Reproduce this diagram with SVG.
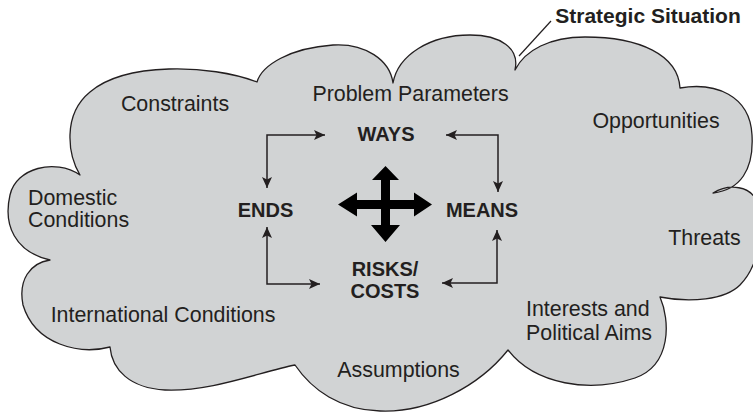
<svg xmlns="http://www.w3.org/2000/svg" width="753" height="412" viewBox="0 0 753 412">
<defs>
<style>
.lbl{font-family:"Liberation Sans",Arial,sans-serif;font-size:21.4px;fill:#231f20}
.key{font-family:"Liberation Sans",Arial,sans-serif;font-size:20px;font-weight:bold;fill:#231f20}
.ttl{font-family:"Liberation Sans",Arial,sans-serif;font-size:21px;font-weight:bold;fill:#231f20}
.conn{fill:none;stroke:#231f20;stroke-width:1.5;stroke-linejoin:miter}
</style>
<marker id="ah" viewBox="0 0 11 10" refX="11" refY="5" markerWidth="11" markerHeight="10" markerUnits="userSpaceOnUse" orient="auto-start-reverse">
<path d="M0,0 L11,5 L0,10 L2.5,5 Z" fill="#231f20"/>
</marker>
</defs>
<rect width="753" height="412" fill="#ffffff"/>
<g id="cloud">
<path d="M80,175 C68,155 62,115 90,92 C125,62 210,64 257,82 C262,65 290,48 333,45 C365,43 390,60 393,83 C398,55 430,35 470,35 C500,35 520,48 515,70 C525,50 550,37 585,37 C640,37 678,55 680,88 C715,82 750,95 752,135 C754,170 740,190 713,193 C728,184 752,184 758,205 C765,240 755,270 740,285 C725,300 690,303 660,297 C670,320 672,365 635,378 C590,393 535,385 508,350 C480,385 430,413 380,411 C340,410 312,390 295,365 C260,372 210,392 165,390 C130,388 112,370 110,347 C80,355 35,345 23,305 C18,280 30,263 50,260 C15,252 3,225 10,195 C16,168 55,158 80,175 Z" fill="#d1d3d4" stroke="#231f20" stroke-width="1.3" stroke-linejoin="round"/>
<line x1="551" y1="21" x2="519" y2="56" stroke="#231f20" stroke-width="1.2"/>
<text class="ttl" x="648" y="23" text-anchor="middle">Strategic Situation</text>
</g>
<g id="factors">
<text class="lbl" x="175" y="111" text-anchor="middle">Constraints</text>
<text class="lbl" x="410.5" y="101" text-anchor="middle">Problem Parameters</text>
<text class="lbl" x="656" y="128" text-anchor="middle">Opportunities</text>
<text class="lbl" x="28" y="205">Domestic</text>
<text class="lbl" x="28" y="227">Conditions</text>
<text class="lbl" x="704.5" y="245" text-anchor="middle">Threats</text>
<text class="lbl" x="163" y="322" text-anchor="middle">International Conditions</text>
<text class="lbl" x="526" y="316">Interests and</text>
<text class="lbl" x="526" y="340">Political Aims</text>
<text class="lbl" x="398.5" y="377" text-anchor="middle">Assumptions</text>
</g>
<g id="ways"><text class="key" x="386" y="141" text-anchor="middle">WAYS</text></g>
<g id="ends"><text class="key" x="265.5" y="217" text-anchor="middle">ENDS</text></g>
<g id="means"><text class="key" x="482" y="217" text-anchor="middle">MEANS</text></g>
<g id="risks"><text class="key" x="385" y="276" text-anchor="middle">RISKS/</text><text class="key" x="385" y="298" text-anchor="middle">COSTS</text></g>
<g id="center-arrow">
<polygon points="385.5,166 399,180 390,180 390,200 414,200 414,192.5 432,204.5 414,216.5 414,209 390,209 390,225 400,225 385.5,242 371,225 381,225 381,209 357,209 357,216.5 338,204.5 357,192.5 357,200 381,200 381,180 372,180" fill="#000000"/>
</g>
<g id="connectors">
<path class="conn" d="M267,188 L267,135 L325,135" marker-start="url(#ah)" marker-end="url(#ah)"/>
<path class="conn" d="M446,135 L498,135 L498,192" marker-start="url(#ah)" marker-end="url(#ah)"/>
<path class="conn" d="M267,227 L267,284 L320,284" marker-start="url(#ah)" marker-end="url(#ah)"/>
<path class="conn" d="M497,230 L497,283 L442,283" marker-start="url(#ah)" marker-end="url(#ah)"/>
</g>
</svg>
